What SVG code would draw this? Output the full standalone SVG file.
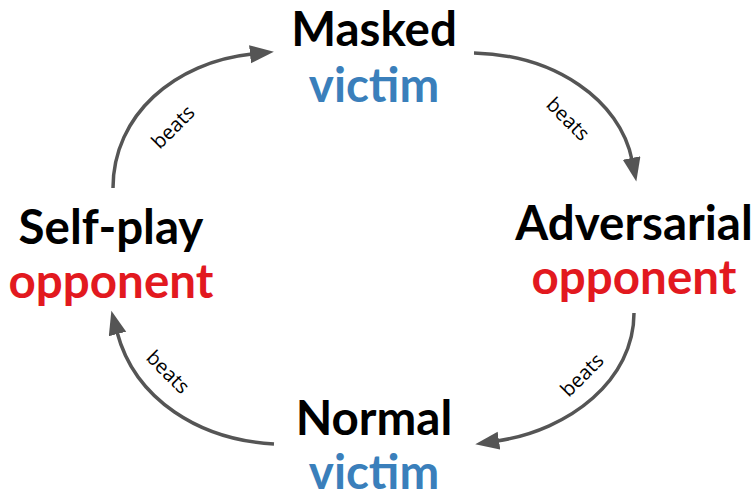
<svg xmlns="http://www.w3.org/2000/svg" width="756" height="498" viewBox="0 0 756 498">
<style>
.t{font-family:Lato,"Noto Sans",sans-serif;font-weight:bold;font-size:47.5px;text-anchor:middle}
.k{fill:#000}
.b{fill:#3a7fbb}
.r{fill:#e2191f}
.e{stroke:#555;stroke-width:3.5;fill:none;marker-end:url(#ah)}
.l{font-family:"Open Sans","DejaVu Sans",sans-serif;font-size:20px;fill:#000;text-anchor:middle}
</style>
<defs>
<marker id="ah" markerUnits="userSpaceOnUse" markerWidth="26" markerHeight="20" refX="2" refY="9" orient="auto">
<path d="M0,0 L24,9 L0,18 z" fill="#555"/>
</marker>
</defs>
<rect width="756" height="498" fill="#fff"/>
<g id="masked"><text class="t k" x="374" y="46">Masked</text><text class="t b" x="374" y="102">victim</text></g>
<g id="adversarial"><text class="t k" x="634" y="240">Adversarial</text><text class="t r" x="634" y="294">opponent</text></g>
<g id="normal"><text class="t k" x="374" y="435">Normal</text><text class="t b" x="374" y="489">victim</text></g>
<g id="selfplay"><text class="t k" x="111" y="244">Self-play</text><text class="t r" x="111" y="298">opponent</text></g>
<g id="connectors">
<path class="e" d="M113,188 C113,115 175,62 252,54"/>
<path class="e" d="M474,53 C555,55 620,100 632,160"/>
<path class="e" d="M634,313 C634,380 570,430 497,441"/>
<path class="e" d="M274,444 C200,440 135,400 117,332"/>
<text class="l" transform="translate(173,127) rotate(-45)" y="7">beats</text>
<text class="l" transform="translate(568,119) rotate(45)" y="7">beats</text>
<text class="l" transform="translate(582,375) rotate(-45)" y="7">beats</text>
<text class="l" transform="translate(168,372) rotate(45)" y="7">beats</text>
</g>
</svg>
